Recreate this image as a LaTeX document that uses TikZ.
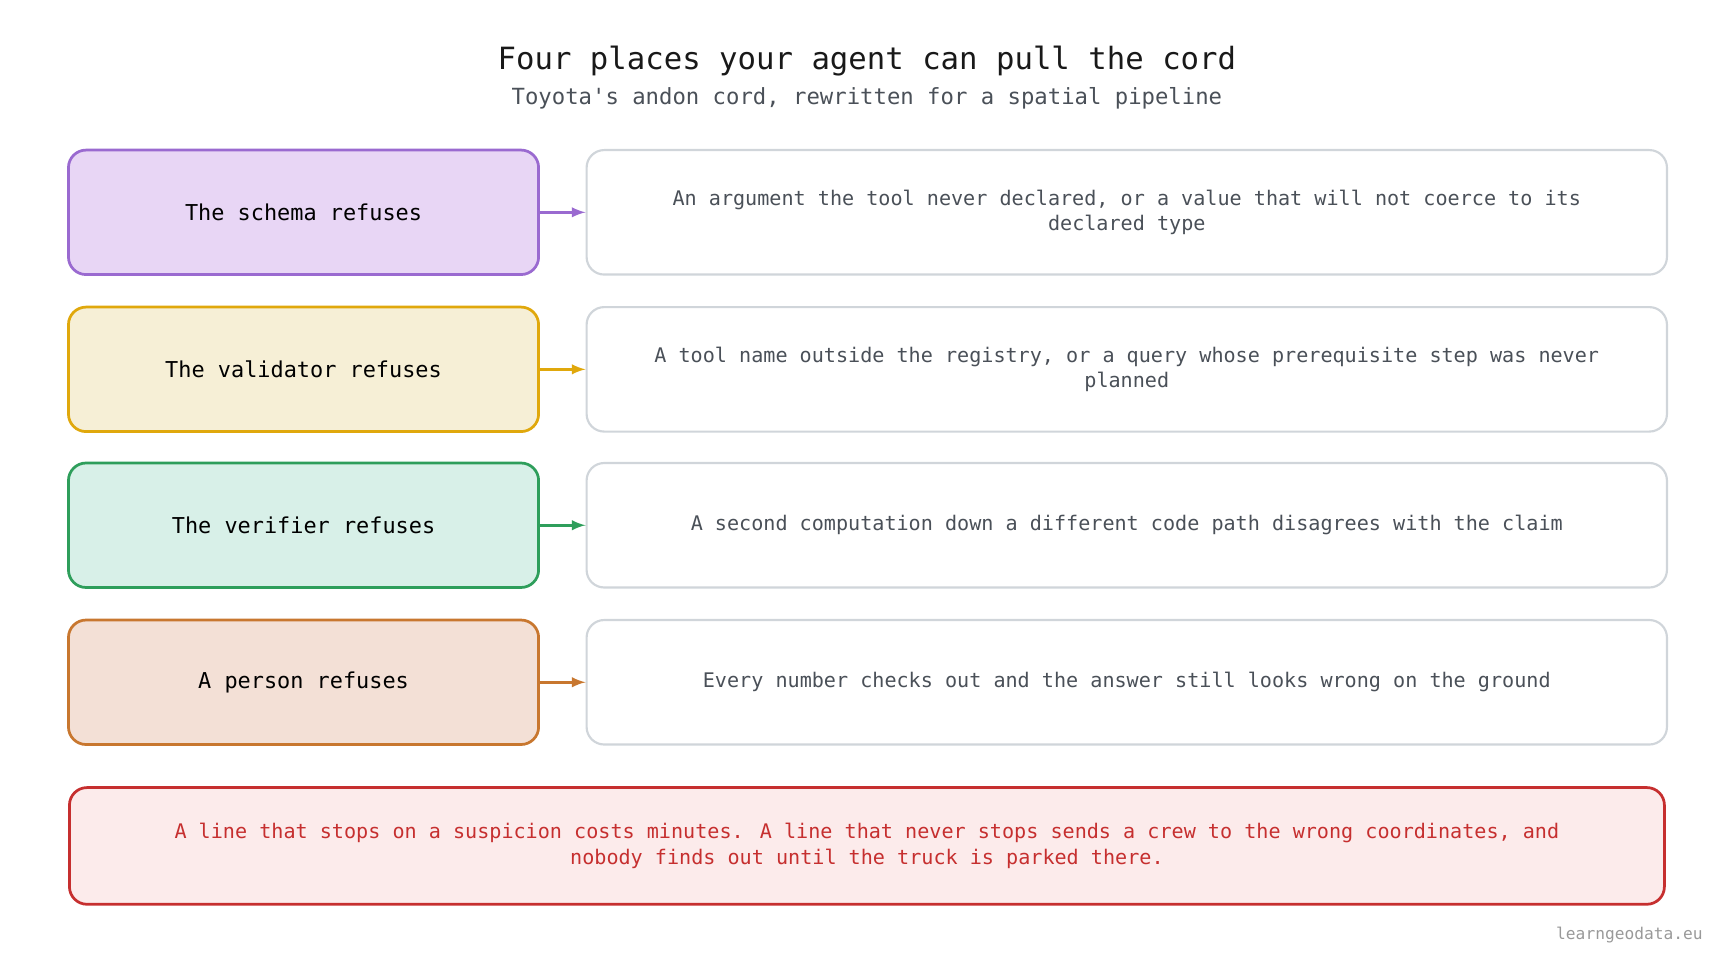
\documentclass[tikz,border=0pt]{standalone}
\usepackage{fontspec}
\setmainfont{DejaVu Sans Mono}
\setmonofont{DejaVu Sans Mono}
\usetikzlibrary{positioning}
\definecolor{txtgrey}{HTML}{4A5058}
\definecolor{boxgrey}{HTML}{D0D5DA}
\definecolor{purp}{HTML}{9A6AD0}\definecolor{purpfill}{HTML}{E8D6F5}
\definecolor{yell}{HTML}{E0A80C}\definecolor{yellfill}{HTML}{F6EFD6}
\definecolor{gren}{HTML}{2E9E5B}\definecolor{grenfill}{HTML}{D8F0E8}
\definecolor{oran}{HTML}{C8772F}\definecolor{oranfill}{HTML}{F3E0D6}
\definecolor{redd}{HTML}{C62F2F}\definecolor{reddfill}{HTML}{FCEBEB}
\tikzset{
  stage/.style={draw=#1,fill=#1fill,line width=1.4pt,rounded corners=9pt,
    minimum width=8.46cm,minimum height=2.24cm,font=\fontsize{11.2}{13}\selectfont},
  detail/.style={draw=boxgrey,fill=white,line width=1.1pt,rounded corners=9pt,
    minimum width=19.44cm,minimum height=2.24cm,align=center,
    text=txtgrey,font=\fontsize{10.3}{13}\selectfont},
  link/.style={draw=#1,line width=1.4pt,-latex}
}
\begin{document}
\begin{tikzpicture}[x=0.0199cm,y=-0.0199cm]
\useasboundingbox (0,0) rectangle (1560,868);
\node[font=\fontsize{15.7}{18}\selectfont,text=black!90] (title) at (784,55) {Four places your agent can pull the cord};
\node[font=\fontsize{11.4}{14}\selectfont,text=txtgrey] (sub) at (784,89) {Toyota\textquotesingle s andon cord, rewritten for a spatial pipeline};

% rows
\node[stage=purp] (s1) at (274.5,192) {The schema refuses};
\node[detail] (d1) at (1019,192) {An argument the tool never declared, or a value that will not coerce to its\\declared type};
\node[stage=yell] (s2) at (274.5,334) {The validator refuses};
\node[detail] (d2) at (1019,334) {A tool name outside the registry, or a query whose prerequisite step was never\\planned};
\node[stage=gren] (s3) at (274.5,475) {The verifier refuses};
\node[detail] (d3) at (1019,475) {A second computation down a different code path disagrees with the claim};
\node[stage=oran] (s4) at (274.5,617) {A person refuses};
\node[detail] (d4) at (1019,617) {Every number checks out and the answer still looks wrong on the ground};
\draw[link=purp] (s1) -- (d1);
\draw[link=yell] (s2) -- (d2);
\draw[link=gren] (s3) -- (d3);
\draw[link=oran] (s4) -- (d4);

% bottom note
\node[draw=redd,fill=reddfill,line width=1.4pt,rounded corners=9pt,minimum width=28.7cm,
  minimum height=2.1cm,align=center,text=redd,
  font=\fontsize{10.3}{13}\selectfont] (note) at (784,765)
  {A line that stops on a suspicion costs minutes. A line that never stops sends a crew to the wrong coordinates, and\\nobody finds out until the truck is parked there.};
\node[anchor=east,text=gray!80,font=\fontsize{8.3}{10}\selectfont] (mark) at (1546,846) {learngeodata.eu};
\end{tikzpicture}
\end{document}
